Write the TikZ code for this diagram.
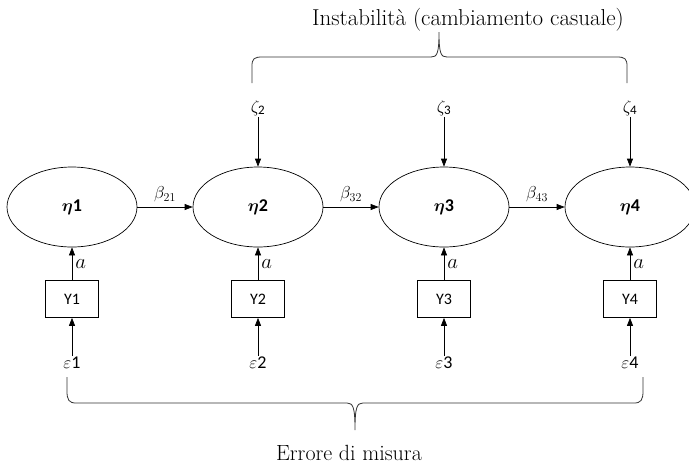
\documentclass[tikz,border=0pt]{standalone}
\usepackage{fontspec}
\usepackage{bm}
\usetikzlibrary{arrows.meta,shapes.geometric}
\newfontfamily\calib{Carlito}
\begin{document}
\begin{tikzpicture}[x=1pt,y=-1pt,
  latent/.style={draw,ellipse,line width=0.7pt,minimum width=130pt,minimum height=80pt,inner sep=0pt},
  indicator/.style={draw,rectangle,line width=0.7pt,minimum width=53pt,minimum height=37pt,inner sep=0pt,
    font=\calib\fontsize{16}{18}\selectfont},
  errlab/.style={inner sep=1pt,font=\fontsize{18}{20}\selectfont},
  path/.style={line width=0.7pt,-{Triangle[length=8pt,width=6pt]}},
  brace/.style={line width=0.8pt,black!80},
  caption/.style={font=\fontsize{22}{25}\selectfont}]
\useasboundingbox (0,0) rectangle (689,467);

% latent variables
\foreach \i/\x in {1/72,2/258,3/444,4/630}{
  \node[latent] (eta\i) at (\x,207) {\fontsize{18}{20}\selectfont$\bm{\eta}$\calib\bfseries\i};
  \node[indicator] (y\i) at (\x,299) {Y\i};
  \node[errlab] (eps\i) at (\x,363) {$\varepsilon$\calib\i};
  \draw[path] (y\i.north) -- node[right,inner sep=3pt,font=\fontsize{22}{24}\selectfont]{$a$} (eta\i.south);
  \draw[path] (eps\i.north) -- (y\i.south);
}

% structural disturbances
\foreach \i in {2,3,4}{
  \node[errlab] (zeta\i) at (eta\i.north |- 0,108) {$\zeta_{\mbox{\calib\fontsize{13}{14}\selectfont\i}}$};
  \draw[path] (zeta\i.south) -- (eta\i.north);
}

% autoregressive paths
\draw[path] (eta1.east) -- node[above,font=\fontsize{17}{19}\selectfont,yshift=1pt]{$\beta_{21}$} (eta2.west);
\draw[path] (eta2.east) -- node[above,font=\fontsize{17}{19}\selectfont,yshift=1pt]{$\beta_{32}$} (eta3.west);
\draw[path] (eta3.east) -- node[above,font=\fontsize{17}{19}\selectfont,yshift=1pt]{$\beta_{43}$} (eta4.west);

% upper brace over the disturbances
\draw[brace] (252,83) -- (252,66) .. controls (252,59) and (254,57) .. (262,57) -- (431,57)
  .. controls (437,57) and (439,54) .. (439,32)
  .. controls (439,54) and (441,57) .. (447,57) -- (617,57)
  .. controls (625,57) and (627,59) .. (627,66) -- (627,83);
\node[caption,font=\fontsize{23}{26}\selectfont] (instab) at (468,20) {Instabilità (cambiamento casuale)};

% lower brace under the measurement errors
\draw[brace] (67,377) -- (67,391) .. controls (67,400) and (69,403) .. (76,403) -- (347,403)
  .. controls (353,403) and (355,407) .. (355,430)
  .. controls (355,407) and (357,403) .. (363,403) -- (634,403)
  .. controls (641,403) and (643,400) .. (643,391) -- (643,377);
\node[caption] (errmis) at (349,453) {Errore di misura};
\end{tikzpicture}
\end{document}
